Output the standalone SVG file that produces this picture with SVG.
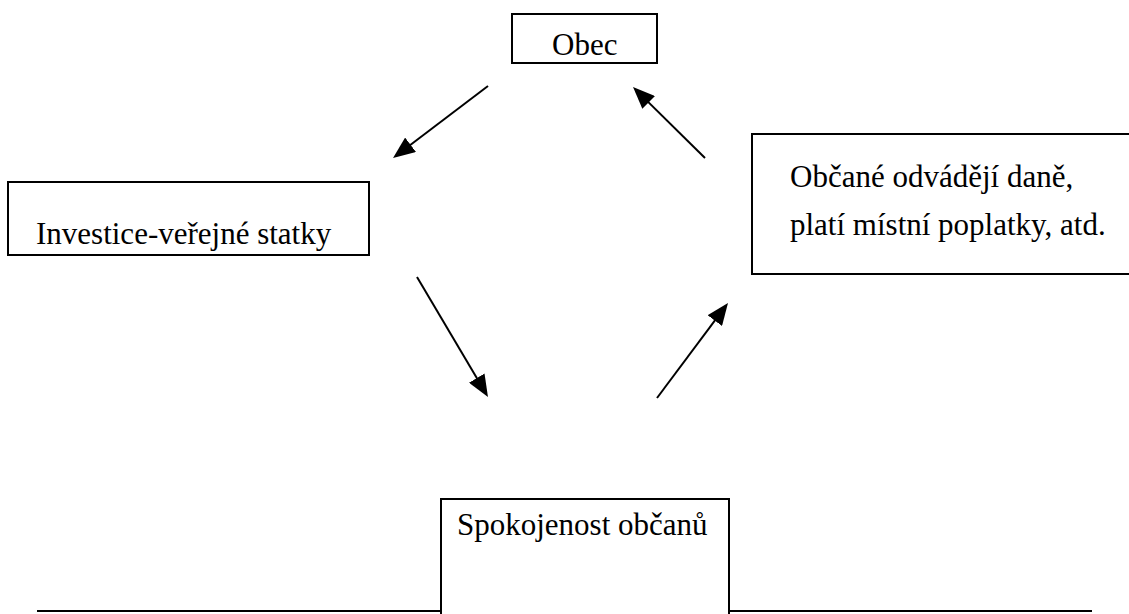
<svg xmlns="http://www.w3.org/2000/svg" width="1129" height="614" viewBox="0 0 1129 614">
<style>
.box{fill:#fff;stroke:#000;stroke-width:2}
.lbl{font-size:31px;fill:#000}
.conn{stroke:#000;stroke-width:2;fill:none;marker-end:url(#ah)}
</style>
<defs>
<marker id="ah" markerUnits="userSpaceOnUse" markerWidth="22" markerHeight="18" refX="14" refY="9" orient="auto">
<path d="M0,0 L22,9 L0,18 z" fill="#000"/>
</marker>
</defs>
<rect width="1129" height="614" fill="#fff"/>
<g id="baseline">
<line x1="37" y1="611" x2="441" y2="611" stroke="#000" stroke-width="2"/>
<line x1="729" y1="611" x2="1092" y2="611" stroke="#000" stroke-width="2"/>
</g>
<g font-family="'Liberation Serif', 'Times New Roman', 'DejaVu Serif', serif">
<g id="obec">
<rect class="box" x="512" y="14" width="145" height="49"/>
<text class="lbl" x="552" y="55">Obec</text>
</g>
<g id="investice">
<rect class="box" x="8" y="182" width="361" height="73"/>
<text class="lbl" x="36" y="244">Investice-veřejné statky</text>
</g>
<g id="obcane">
<rect class="box" x="752" y="134" width="390" height="140"/>
<text class="lbl" x="790" y="187">Občané odvádějí daně,</text>
<text class="lbl" x="790" y="235">platí místní poplatky, atd.</text>
</g>
<g id="spokojenost">
<path class="box" d="M441,616 L441,499 L729,499 L729,616"/>
<text class="lbl" x="457" y="535">Spokojenost občanů</text>
</g>
</g>
<g id="connectors">
<line class="conn" x1="488" y1="86" x2="399.4" y2="153.2"/>
<line class="conn" x1="705" y1="158" x2="638.7" y2="92.6"/>
<line class="conn" x1="417" y1="277" x2="483.9" y2="390.1"/>
<line class="conn" x1="657" y1="398" x2="723.2" y2="309.4"/>
</g>
</svg>
